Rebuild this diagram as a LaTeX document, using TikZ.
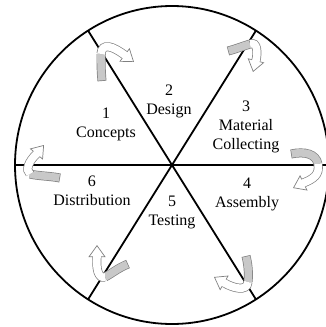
\documentclass[tikz,border=0pt]{standalone}
\usepackage{fontspec}
\setmainfont{Liberation Serif}
\usetikzlibrary{arrows.meta}
\definecolor{bandgray}{HTML}{C8C8C8}
\definecolor{bandline}{HTML}{808080}
\tikzset{
  rim/.style={line width=1.8pt, draw=black},
  divider/.style={line width=1.8pt, draw=black},
  sectext/.style={align=center, font=\fontsize{16}{19}\selectfont, inner sep=0pt},
  bandout/.style={line width=9pt, draw=bandline},
  bandgrayin/.style={line width=7.6pt, draw=bandgray, shorten <=0.7pt},
  bandwhitein/.style={line width=7.6pt, draw=white, shorten >=10pt},
  headtip/.style={-{Triangle[length=12pt,width=17pt,line width=0.7pt,fill=white]}},
}
\newcommand{\cyclearrow}[2]{%
  \draw[bandout] #1; \draw[bandgrayin] #1;
  \draw[bandout, headtip] #2; \draw[bandwhitein] #2;}
\begin{document}
\begin{tikzpicture}[x=1pt, y=-1pt]
\clip (0,0) rectangle (326,327);
\coordinate (O) at (172,165);
\coordinate (tl) at (88,30.5);
\coordinate (tr) at (256,30.5);
\coordinate (bl) at (88,299.5);
\coordinate (br) at (256,299.5);
\coordinate (le) at (15,165);
\coordinate (ri) at (329,165);
\draw[rim] (O) ellipse [x radius=157, y radius=159];
\draw[divider] (tl) -- (br);
\draw[divider] (tr) -- (bl);
\draw[divider] (le) -- (ri);
% text
\node[sectext] (s1) at (106,124) {1\\Concepts};
\node[sectext] (s2) at (169,101) {2\\Design};
\node[sectext] (s3) at (246,127) {3\\Material\\Collecting};
\node[sectext] (s4) at (247,194) {4\\Assembly};
\node[sectext] (s5) at (172,212) {5\\Testing};
\node[sectext] (s6) at (92,191) {6\\Distribution};
% arrows
\cyclearrow{(102,81) .. controls (101,70) and (101,62) .. (101,54)}
           {(101,54) .. controls (102,42) and (113,46.5) .. (124.4,54.8) -- (134,62)}
\cyclearrow{(228,51) .. controls (236,49) and (243,46) .. (250,44)}
           {(250,44) .. controls (258,41) and (257.5,54) .. (256,60.4) -- (253,72)}
\cyclearrow{(291,154) .. controls (305,151) and (316,154) .. (318,164)}
           {(318,164) .. controls (320,175) and (313,179) .. (303.8,182.8) -- (293,188)}
\cyclearrow{(246,256) .. controls (248,264) and (249,273) .. (248,282)}
           {(248,282) .. controls (247,292) and (233,288) .. (224.4,283) -- (214,277)}
\cyclearrow{(128,264) .. controls (118,268) and (111,274) .. (105,277)}
           {(105,277) .. controls (98,279) and (96,268) .. (97,257) -- (97,245)}
\cyclearrow{(60,178) .. controls (50,176) and (38,176) .. (30,174)}
           {(30,174) .. controls (25,170) and (29,161) .. (36.3,154.2) -- (44,145)}
\end{tikzpicture}
\end{document}
